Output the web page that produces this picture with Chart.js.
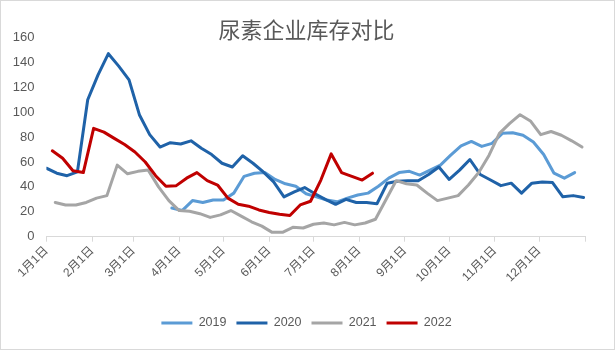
<!DOCTYPE html>
<html>
<head>
<meta charset="utf-8">
<script src="https://cdn.jsdelivr.net/npm/chart.js@4/dist/chart.umd.min.js"></script>
<style>
  body { margin: 0; background: #fff; }
  #wrap { position: relative; width: 615px; height: 350px; }
  #moldura { position: absolute; left: 0; top: 0; width: 613px; height: 348px; border: 1px solid #d9d9d9; }
  #grafico { position: absolute; left: 0; top: 0; }
</style>
</head>
<body>
<div id="wrap">
  <div id="moldura"></div>
  <canvas id="grafico" width="615" height="350"></canvas>
</div>
<script>
// Datas dos rótulos do eixo X (dia do ano)
const inicioMes = [0, 31, 59, 90, 120, 151, 181, 212, 243, 273, 304, 334, 365];
const rotulosMes = ['1月1日', '2月1日', '3月1日', '4月1日', '5月1日', '6月1日',
  '7月1日', '8月1日', '9月1日', '10月1日', '11月1日', '12月1日'];

// Séries semanais (primeiro dia de cada série, passo de 7 dias)
const anos = ['2019', '2020', '2021', '2022'];
const diaInicial = [85, 0, 6, 4];
const passo = 7;

const dados2019 = [23, 21, 29, 27.5, 29.5, 29.5, 35, 48.5, 51, 51.5, 46, 42.5, 40.5, 34.5,
  32, 29.5, 28, 31, 33.5, 35, 40.5, 47, 51.5, 52.5, 49.5, 53.5, 57.5, 65.5, 73, 76.5,
  72.5, 75, 83, 83.5, 81.5, 76, 66, 51, 47, 51.5];
const dados2020 = [55, 51, 49, 52, 110, 130, 147, 137, 126, 98, 82, 72, 75.5, 74.5, 77,
  71, 66, 59, 56, 65, 59, 52, 44, 32, 36, 39.5, 34.5, 30, 26, 30, 27.5, 27.5, 26.5, 43,
  44.5, 45, 45, 50, 56, 46, 53.5, 62, 50, 45.5, 41, 43, 35, 43, 44, 43.5, 32, 33, 31.5];
const dados2021 = [27.5, 25.5, 25.5, 27.5, 31, 33, 57.5, 50.5, 52.5, 53.5, 40, 29, 21,
  20.5, 18.5, 15.5, 17.5, 21, 16.5, 12, 8.5, 3.5, 3.5, 7.5, 7, 10, 11, 9.5, 11.5, 9.5,
  11, 14, 29.5, 45, 42.5, 41.5, 35, 29, 31, 33, 41.5, 51.5, 65.5, 83, 91, 98, 93, 82,
  84.5, 81.5, 77, 72];
const dados2022 = [69, 63, 53, 51.5, 87, 84, 79, 74, 68, 60, 49, 40.5, 41, 47, 51.5, 45,
  41.5, 31, 26, 24.5, 21.5, 19.5, 18, 17, 25.5, 28.5, 45.5, 66.5, 51.5, 48.5, 45.5, 51];

const cores = ['#5B9BD5', '#1F62A8', '#A5A5A5', '#C00000'];
const corTexto = '#595959';
const fonte = "'Liberation Sans', 'Noto Sans CJK SC', sans-serif";

// Monta os pontos {x, y} de cada série
function pontos(valores, inicio) {
  return valores.map((v, i) => ({ x: inicio + i * passo, y: v }));
}

const series = [dados2019, dados2020, dados2021, dados2022];
const datasets = series.map((valores, i) => ({
  label: anos[i],
  data: pontos(valores, diaInicial[i]),
  borderColor: cores[i],
  backgroundColor: cores[i],
  borderWidth: 3,
  borderJoinStyle: 'round',
  borderCapStyle: 'round',
  pointRadius: 0,
  tension: 0,
  order: series.length - i
}));

new Chart(document.getElementById('grafico'), {
  type: 'line',
  data: { datasets: datasets },
  options: {
    responsive: false,
    animation: false,
    layout: { padding: { left: 0, right: 2, top: 0, bottom: 10.75 } },
    plugins: {
      title: {
        display: true,
        text: '尿素企业库存对比',
        color: corTexto,
        font: { family: "'Noto Sans CJK SC', sans-serif", size: 22, weight: 'normal', lineHeight: 1.2 },
        padding: { top: 16.8, bottom: -5.7 }
      },
      legend: {
        position: 'bottom',
        labels: {
          usePointStyle: true,
          pointStyle: 'line',
          pointStyleWidth: 31,
          color: corTexto,
          font: { family: fonte, size: 12.5 },
          padding: 10,
          sort: (a, b) => a.datasetIndex - b.datasetIndex
        }
      },
      tooltip: { enabled: false }
    },
    scales: {
      x: {
        type: 'linear',
        min: 0,
        max: 365,
        afterBuildTicks: (eixo) => {
          eixo.ticks = inicioMes.map(d => ({ value: d }));
        },
        afterFit: (eixo) => { eixo.height = 70.05; },
        ticks: {
          autoSkip: false,
          minRotation: 45,
          maxRotation: 45,
          color: corTexto,
          font: { family: fonte, size: 12 },
          padding: 2,
          callback: (valor, indice) => rotulosMes[indice] || ''
        },
        grid: {
          display: true,
          drawOnChartArea: false,
          drawTicks: true,
          tickLength: 5,
          color: '#d9d9d9'
        },
        border: { display: true, color: '#d9d9d9', width: 1 }
      },
      y: {
        min: 0,
        max: 160,
        afterFit: (eixo) => { eixo.width = 46.4; },
        ticks: {
          stepSize: 20,
          color: corTexto,
          font: { family: fonte, size: 13 },
          padding: 12
        },
        grid: { display: false, drawTicks: false },
        border: { display: false }
      },
      // eixo vazio à direita só para reservar a margem
      margem: {
        position: 'right',
        afterFit: (eixo) => { eixo.width = 28; },
        ticks: { display: false },
        grid: { display: false, drawTicks: false },
        border: { display: false }
      }
    }
  }
});
</script>
</body>
</html>
